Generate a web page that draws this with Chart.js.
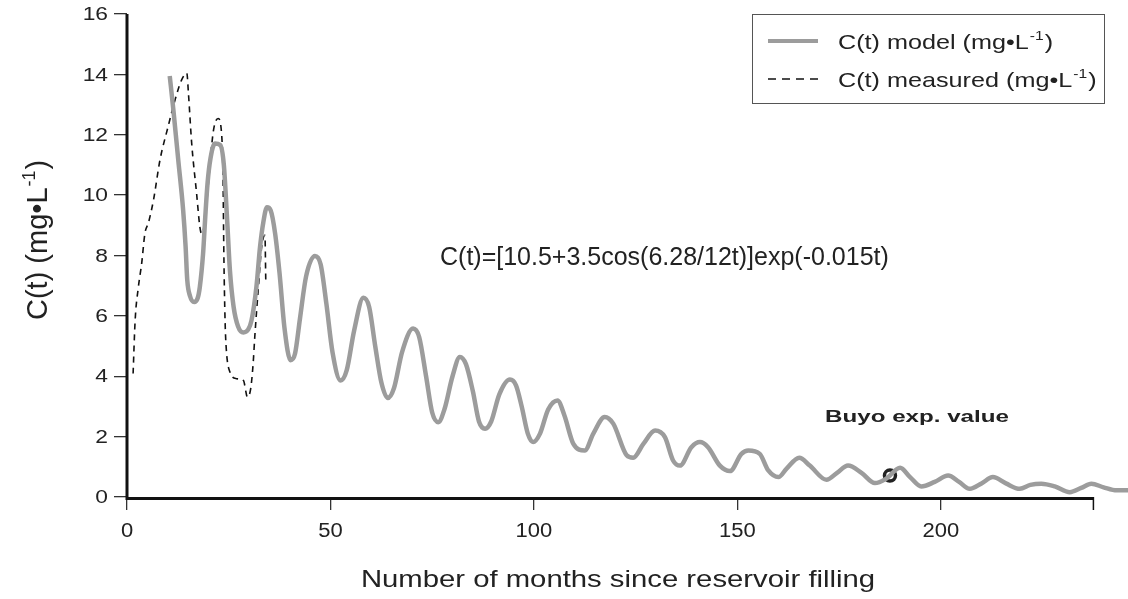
<!DOCTYPE html>
<html>
<head>
<meta charset="utf-8">
<script src="https://cdn.jsdelivr.net/npm/chart.js@4/dist/chart.umd.min.js"></script>
<style>
  html, body { margin: 0; padding: 0; background: #fff; }
  #wrap { width: 1128px; height: 599px; }
</style>
</head>
<body>
<div id="wrap"><canvas id="chart" width="1128" height="599"></canvas></div>
<script>
// model curve (months, mg/L)
var modelT = [10.5, 11.4, 12.6, 13.8, 14.4, 14.8, 15.5, 16.5, 17.4, 17.9, 18.7, 19.2, 19.8, 20.5, 21.6, 22.9,
  23.8, 24.6, 25.3, 26.2, 27.3, 28.6, 29.8, 30.6, 31.8, 32.7, 33.5, 34.4, 35.3, 36.4, 37.5, 38.7, 40.2, 41.3,
  42.5, 44.0, 46.2, 47.6, 49.0, 50.5, 52.5, 54.0, 55.8, 58.1, 59.5, 61.0, 62.5, 64.1, 65.6, 67.6, 70.3, 71.8,
  73.5, 75.0, 76.5, 78.0, 80.0, 81.8, 83.3, 85.0, 86.5, 88.0, 89.5, 91.5, 94.1, 95.6, 97.0, 98.5, 99.8, 101.5,
  103.5, 105.8, 107.5, 109.7, 112.5, 114.6, 117.4, 119.5, 122.8, 124.4, 126.9, 129.8, 132.2, 134.2, 135.9,
  138.7, 140.8, 142.8, 145.7, 148.2, 151.0, 152.7, 155.5, 157.6, 160.1, 162.1, 165.2, 167.8, 171.9, 174.5,
  177.2, 180.5, 183.8, 186.5, 190.0, 192.5, 195.2, 198.5, 201.8, 204.5, 207.1, 210.0, 212.8, 216.0, 219.4,
  222.0, 224.7, 228.0, 231.7, 234.5, 237.0, 240.0, 243.2, 246.0];
var modelC = [13.95, 12.82, 11.16, 9.5, 8.3, 7.2, 6.65, 6.46, 6.6, 6.96, 8.07, 9.2, 10.4, 11.2, 11.71, 11.66,
  11.0, 9.2, 7.5, 6.3, 5.65, 5.45, 5.55, 5.85, 6.96, 8.29, 9.1, 9.6, 9.5, 8.73, 7.4, 5.6, 4.53, 4.75,
  5.9, 7.3, 7.98, 7.7, 6.4, 4.8, 3.86, 4.2, 5.5, 6.6, 6.3, 5.0, 3.8, 3.28, 3.6, 4.8, 5.58, 5.3,
  4.0, 2.8, 2.48, 2.9, 4.0, 4.64, 4.4, 3.5, 2.5, 2.26, 2.5, 3.4, 3.89, 3.7, 3.0, 2.1, 1.82, 2.1,
  2.9, 3.2, 2.7, 1.76, 1.54, 2.1, 2.65, 2.43, 1.38, 1.3, 1.76, 2.2, 1.98, 1.21, 1.04,
  1.65, 1.82, 1.65, 1.04, 0.86, 1.43, 1.54, 1.43, 0.88, 0.66, 0.94, 1.3, 1.04, 0.57, 0.8,
  1.04, 0.8, 0.46, 0.6, 0.97, 0.65, 0.35, 0.5, 0.71, 0.5, 0.27, 0.45, 0.66, 0.45, 0.27,
  0.4, 0.44, 0.35, 0.16, 0.3, 0.44, 0.32, 0.22, 0.22];

// measured curve
var measT = [1.5, 2.0, 2.8, 3.6, 4.4, 5.3, 6.5, 8.1, 10.1, 11.8, 13.4, 14.7, 15.1, 15.9, 17.1, 17.9, 18.3,
  19.2, 20.0, 21.2, 22.4, 23.3, 23.6, 23.8, 24.1, 24.4, 25.3, 26.9, 28.6, 29.6, 30.4, 31.0, 31.4, 32.3, 33.1,
  33.9, 34.1];
var measC = [4.09, 5.85, 6.96, 7.73, 8.73, 9.1, 9.83, 11.16, 12.27, 13.15, 13.81, 14.04, 13.37, 11.71, 10.06,
  8.95, 8.73, 9.17, 10.39, 12.1, 12.54, 11.93, 10.6, 8.07, 5.85, 4.9, 4.14, 3.92, 3.86, 3.31, 3.59, 4.42, 5.3,
  6.96, 8.29, 8.67, 7.2];

// Buyo experimental value
var buyoT = [187.5];
var buyoC = [0.71];

var xTicks = [0, 50, 100, 150, 200];
var xTickLabels = ['0', '50', '100', '150', '200'];
var xAxisEnd = 237.5;
var yTicks = [0, 2, 4, 6, 8, 10, 12, 14, 16];
var yTickLabels = ['0', '2', '4', '6', '8', '10', '12', '14', '16'];

var FONT = '"Liberation Sans", Arial, Helvetica, sans-serif';

function pts(xs, ys) {
  return xs.map(function (x, i) { return { x: x, y: ys[i] }; });
}

// text with a horizontal stretch, the reference glyphs are wider than plain Arial
function wideText(ctx, txt, x, y, font, sx, align) {
  ctx.save();
  ctx.font = font;
  var w = ctx.measureText(txt).width * sx;
  var x0 = x;
  if (align === 'center') x0 = x - w / 2;
  if (align === 'right') x0 = x - w;
  ctx.translate(x0, y);
  ctx.scale(sx, 1);
  ctx.textAlign = 'left';
  ctx.fillText(txt, 0, 0);
  ctx.restore();
  return w;
}

// "label (mg•L" + superscript -1 + ")"
function unitText(ctx, pre, x, y, size, sx) {
  var w = wideText(ctx, pre, x, y, size + 'px ' + FONT, sx, 'left');
  var s = Math.round(size * 0.62);
  var w2 = wideText(ctx, '-1', x + w + 1, y - size * 0.42, s + 'px ' + FONT, sx, 'left');
  wideText(ctx, ')', x + w + w2 + 2, y, size + 'px ' + FONT, sx, 'left');
}

var decor = {
  id: 'decor',
  afterDraw: function (chart) {
    var ctx = chart.ctx;
    var xs = chart.scales.x, ys = chart.scales.y;
    var x0 = xs.getPixelForValue(0), y0 = ys.getPixelForValue(0);
    ctx.save();

    // axis lines
    ctx.strokeStyle = '#111';
    ctx.lineWidth = 3;
    ctx.beginPath();
    ctx.moveTo(x0, ys.getPixelForValue(16));
    ctx.lineTo(x0, y0 + 1.5);
    ctx.lineTo(xs.getPixelForValue(xAxisEnd), y0 + 1.5);
    ctx.stroke();
    ctx.lineWidth = 1.5;
    ctx.beginPath();
    ctx.moveTo(xs.getPixelForValue(xAxisEnd), y0);
    ctx.lineTo(xs.getPixelForValue(xAxisEnd), y0 + 13);
    ctx.stroke();

    ctx.fillStyle = '#222';
    ctx.textBaseline = 'middle';
    yTicks.forEach(function (v, i) {
      wideText(ctx, yTickLabels[i], 108, ys.getPixelForValue(v) + 1, '19px ' + FONT, 1.2, 'right');
    });
    xTicks.forEach(function (v, i) {
      wideText(ctx, xTickLabels[i], xs.getPixelForValue(v), 531, '20px ' + FONT, 1.1, 'center');
    });

    // axis titles
    ctx.textBaseline = 'alphabetic';
    wideText(ctx, 'Number of months since reservoir filling', 618, 587, '24px ' + FONT, 1.22, 'center');
    ctx.save();
    ctx.translate(47, 320);
    ctx.rotate(-Math.PI / 2);
    unitText(ctx, 'C(t) (mg\u2022L', 0, 0, 29, 1);
    ctx.restore();

    // formula and Buyo label
    wideText(ctx, 'C(t)=[10.5+3.5cos(6.28/12t)]exp(-0.015t)', 440, 265, '25px ' + FONT, 1.0, 'left');
    wideText(ctx, 'Buyo exp. value', 917, 422, 'bold 17px ' + FONT, 1.42, 'center');

    // legend
    ctx.strokeStyle = '#555';
    ctx.lineWidth = 1;
    ctx.strokeRect(752.5, 14.5, 352, 89);
    ctx.strokeStyle = '#9c9c9c';
    ctx.lineWidth = 4;
    ctx.beginPath();
    ctx.moveTo(768, 41);
    ctx.lineTo(818, 41);
    ctx.stroke();
    ctx.strokeStyle = '#111';
    ctx.lineWidth = 1.6;
    ctx.setLineDash([8, 6]);
    ctx.beginPath();
    ctx.moveTo(768, 79);
    ctx.lineTo(818, 79);
    ctx.stroke();
    ctx.setLineDash([]);
    ctx.fillStyle = '#222';
    unitText(ctx, 'C(t) model (mg\u2022L', 838, 49, 21, 1.2);
    unitText(ctx, 'C(t) measured (mg\u2022L', 838, 87, 21, 1.2);

    ctx.restore();
  }
};

new Chart(document.getElementById('chart'), {
  type: 'line',
  data: {
    datasets: [{
      label: 'C(t) model',
      data: pts(modelT, modelC),
      borderColor: '#9c9c9c',
      borderWidth: 4.5,
      pointRadius: 0,
      cubicInterpolationMode: 'monotone',
      fill: false
    }, {
      label: 'C(t) measured',
      data: pts(measT, measC),
      borderColor: '#111',
      borderWidth: 1.6,
      borderDash: [6, 5],
      pointRadius: 0,
      cubicInterpolationMode: 'monotone',
      fill: false
    }, {
      label: 'Buyo exp. value',
      data: pts(buyoT, buyoC),
      showLine: false,
      pointRadius: 5.5,
      pointBorderWidth: 3.5,
      pointBorderColor: '#222',
      pointBackgroundColor: 'rgba(0,0,0,0)'
    }]
  },
  options: {
    responsive: false,
    animation: false,
    devicePixelRatio: 1,
    layout: { autoPadding: false, padding: { top: 14, right: 0, left: 0, bottom: 0 } },
    plugins: { legend: { display: false }, tooltip: { enabled: false } },
    scales: {
      x: {
        type: 'linear',
        min: 0,
        max: 246,
        afterBuildTicks: function (s) { s.ticks = xTicks.map(function (v) { return { value: v }; }); },
        afterFit: function (s) { s.height = 102; },
        ticks: { display: false },
        border: { display: false },
        grid: { drawOnChartArea: false, drawTicks: true, tickLength: 13, color: '#333', lineWidth: 1.3 }
      },
      y: {
        min: 0,
        max: 16,
        afterBuildTicks: function (s) { s.ticks = yTicks.map(function (v) { return { value: v }; }); },
        afterFit: function (s) { s.width = 127; },
        ticks: { display: false },
        border: { display: false },
        grid: { drawOnChartArea: false, drawTicks: true, tickLength: 13, color: '#333', lineWidth: 1.3 }
      }
    }
  },
  plugins: [decor]
});
</script>
</body>
</html>
